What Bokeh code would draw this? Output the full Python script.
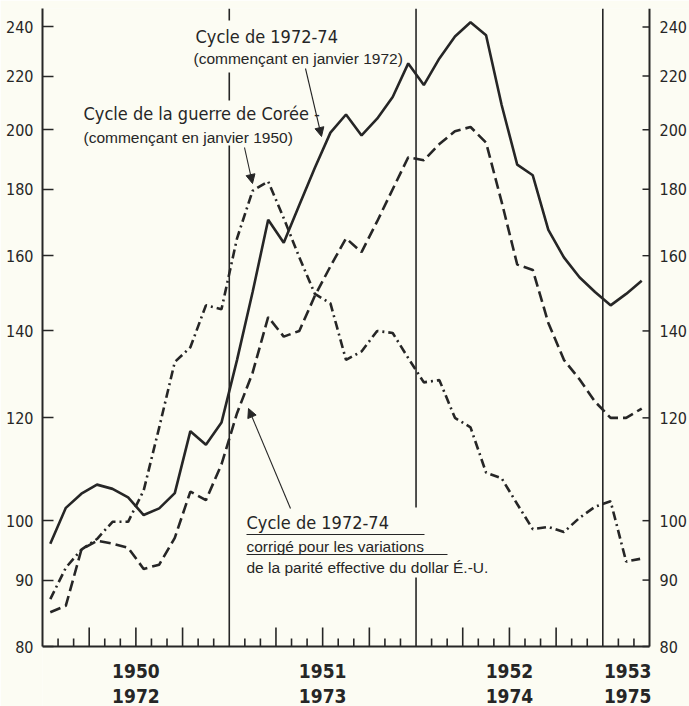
import math
from bokeh.plotting import figure
from bokeh.models import FixedTicker, PrintfTickFormatter, Label, Arrow, NormalHead, Range1d
from bokeh.core.properties import value
from bokeh.embed import file_html
from bokeh.resources import INLINE

# ---------------- data (monthly, Jan 1950 / Jan 1972 = month 0) ----------------
months = list(range(39))
cycle_1972_74 = [96, 102.3, 104.9, 106.6, 105.8, 104.2, 101.0, 102.2, 105.0, 117.2,
                 114.4, 119.0, 133, 150, 170.5, 163.7, 175, 187, 199, 205.5,
                 198, 204, 212, 225, 216.5, 227, 236, 242, 236.5, 209,
                 188, 184.5, 167.5, 159.5, 154, 150, 146.5, 149.5, 153]
cycle_corrige = [85, 86, 95, 96.5, 96, 95.3, 91.8, 92.5, 97, 105.3,
                 103.7, 110.5, 121, 130, 143.5, 138.6, 140, 149, 157, 165,
                 161, 170, 180, 190.5, 189.5, 195, 199.5, 201, 195.5, 176,
                 157.5, 156, 142, 133, 128.5, 123.5, 120, 120, 122]
cycle_coree = [87, 92, 95, 96.8, 99.8, 99.8, 105.5, 118, 132.5, 136,
               146.5, 145.5, 165, 179.5, 182.5, 171, 159.5, 149.5, 147, 133,
               135, 140, 139.5, 133.4, 127.8, 128.3, 120, 118, 108.9, 107.8,
               103, 98.5, 98.9, 98, 100.5, 102.5, 103.5, 93, 93.5]
y_ticks = [80, 90, 100, 120, 140, 160, 180, 200, 220, 240]
y_tick_labels = [str(t) for t in y_ticks]
year_pos = [6, 18, 30, 37.6]
years_a = ["1950", "1951", "1952", "1953"]
years_b = ["1972", "1973", "1974", "1975"]
year_lines = [12, 24, 36]

x = [m + 0.5 for m in months]

# ---------------- layout ----------------
INK = "#262626"
BG = "#fcfcf3"
NARROW = "'Liberation Sans Narrow', 'DejaVu Sans Condensed', 'Roboto Condensed', sans-serif"
REG = "'Liberation Sans', Arial, sans-serif"
Y0, Y1 = 80, 248          # value range of the drawn axes
W, H = 689, 706
L, TOP = 42, 8
AXIS_PX = 638             # pixels between y=80 and y=248
NM = 39
MPX = 607 / NM            # pixels per month
XMAX = (W - L) / MPX      # frame extends to the right edge (room for right labels)
PPL = AXIS_PX / math.log(Y1 / Y0)      # pixels per ln unit
YLOW = Y0 * math.exp(-(H - TOP - AXIS_PX) / PPL)


def yv(py):
    """pixel y -> data value (for annotation placement)"""
    return Y1 * math.exp(-(py - TOP) / PPL)


def xv(px):
    return (px - L) / MPX


p = figure(width=W, height=H, y_axis_type="log", x_axis_location=None,
           x_range=Range1d(0, XMAX), y_range=Range1d(YLOW, Y1),
           output_backend="svg", toolbar_location=None,
           min_border_left=L, min_border_right=0, min_border_top=TOP,
           min_border_bottom=0, background_fill_color=BG,
           border_fill_color=BG, outline_line_color=None)
p.grid.visible = False

# left axis
ya = p.yaxis[0]
ya.ticker = FixedTicker(ticks=y_ticks, minor_ticks=[])
ya.formatter = PrintfTickFormatter(format="%d")
ya.bounds = (Y0, Y1)
ya.major_tick_in = 11
ya.major_tick_out = 0
ya.minor_tick_line_color = None
ya.axis_line_width = 2
ya.axis_line_color = INK
ya.major_tick_line_color = INK
ya.major_tick_line_width = 1.5
ya.major_label_text_font = NARROW
ya.major_label_text_font_size = "16px"
ya.major_label_text_color = INK
ya.major_label_standoff = 9

# right axis (drawn inside the frame)
p.segment(x0=[NM], x1=[NM], y0=[Y0], y1=[Y1], line_color=INK, line_width=2)
p.segment(x0=[NM - 7 / MPX] * len(y_ticks), x1=[NM] * len(y_ticks),
          y0=y_ticks, y1=y_ticks, line_color=INK, line_width=1.5)
p.text(x=[xv(659)] * len(y_ticks), y=y_ticks, text=y_tick_labels,
       text_font=value(NARROW), text_font_size="16px", text_color=INK,
       text_baseline="middle", text_align="left")

# x axis line and month ticks (quarters taller)
p.segment(x0=[0], x1=[NM], y0=[Y0], y1=[Y0], line_color=INK, line_width=2)
mt = [m for m in range(1, NM) if m % 12 != 0]
mt_top = [yv(646 - (19 if m % 3 == 0 else 8)) for m in mt]
p.segment(x0=mt, x1=mt, y0=[Y0] * len(mt), y1=mt_top,
          line_color=INK, line_width=1.6)

# year labels below the axis
for txt_list, py in ((years_a, 670), (years_b, 695)):
    p.text(x=year_pos, y=[yv(py)] * len(year_pos), text=txt_list,
           text_font=value(NARROW), text_font_size="19px",
           text_font_style="bold", text_color=INK, text_align="center",
           text_baseline="middle")

# year separators (with gaps for the annotations)
sx = [12, 12, 12, 24, 24, 36]
sy0 = [Y1, yv(72), yv(145), Y1, yv(577), Y1]
sy1 = [yv(20), yv(100), Y0, yv(507), Y0, Y0]
p.segment(x0=sx, x1=sx, y0=sy0, y1=sy1, line_color=INK, line_width=1.6)

# series
p.line(x, cycle_1972_74, line_color=INK, line_width=2.6)
p.line(x, cycle_corrige, line_color=INK, line_width=2.6, line_dash="11 5")
p.line(x, cycle_coree, line_color=INK, line_width=2.6, line_dash="9 4 2 4")


# annotations
def lab(px, py, text, font, size, style="normal"):
    p.add_layout(Label(x=xv(px), y=yv(py), text=text, text_font=font,
                       text_font_size=size, text_font_style=style,
                       text_color=INK, text_baseline="middle",
                       text_align="left"))


lab(195, 36, "Cycle de 1972-74", NARROW, "18px")
lab(193, 58, "(commençant en janvier 1972)", REG, "15.5px")
lab(83, 113, "Cycle de la guerre de Corée -", NARROW, "18px")
lab(83, 137, "(commençant en janvier 1950)", REG, "15.5px")
lab(246, 522, "Cycle de 1972-74", NARROW, "18px")
lab(246, 546, "corrigé pour les variations", REG, "15.5px")
lab(246, 567, "de la parité effective du dollar É.-U.", REG, "15.5px")

p.segment(x0=[xv(246), xv(246)], x1=[xv(424), xv(447)],
          y0=[yv(534), yv(554)], y1=[yv(534), yv(554)],
          line_color=INK, line_width=1)

for (x0, y0, x1, y1) in [(305, 68, 321, 136), (244, 147, 252, 183), (290, 508, 248, 408)]:
    p.add_layout(Arrow(end=NormalHead(size=9, fill_color=INK, line_color=INK),
                       x_start=xv(x0), y_start=yv(y0), x_end=xv(x1), y_end=yv(y1),
                       line_color=INK, line_width=1.1))

open("out.html", "w").write(file_html(p, INLINE))
